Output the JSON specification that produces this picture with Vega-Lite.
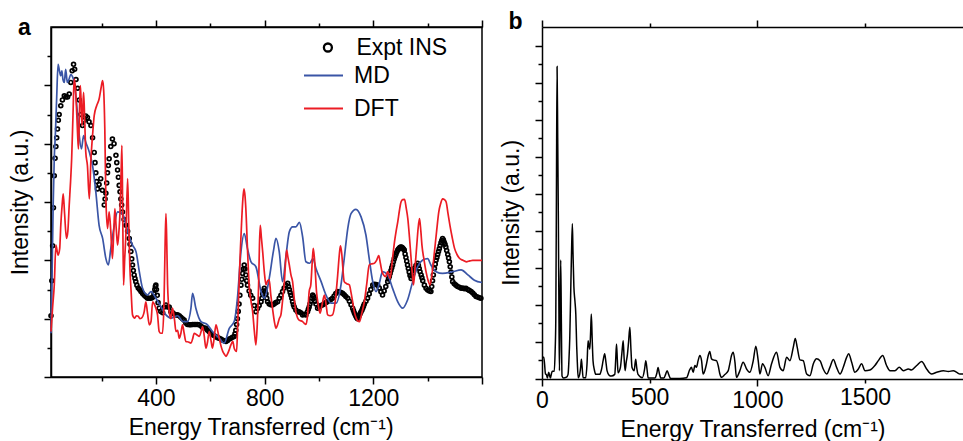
{
  "$schema": "https://vega.github.io/schema/vega-lite/v6.json",
  "padding": {"left": 9, "top": 10, "right": 0, "bottom": 0},
  "bounds": "flush",
  "spacing": 60,
  "config": {
    "font": "Liberation Sans",
    "view": {"stroke": "black", "strokeWidth": 1.5},
    "axis": {"domainColor": "black", "domainWidth": 1.5, "tickColor": "black", "tickWidth": 1.5, "tickSize": 7, "labelFont": "Liberation Sans", "labelFontSize": 23, "labelColor": "black", "labelPadding": 3.5, "titleFont": "Liberation Sans", "titleFontSize": 23, "titleFontWeight": "normal", "titleColor": "black", "grid": false},
    "legend": {"labelFont": "Liberation Sans", "labelFontSize": 23, "labelColor": "black", "padding": 0},
    "title": {"font": "Liberation Sans", "fontSize": 23, "fontWeight": "bold", "color": "black", "anchor": "start", "frame": "group", "offset": 0, "baseline": "alphabetic"}
  },
  "datasets": {
    "expt": [
      {"e":14,"i":2.1},{"e":17,"i":3.3},{"e":20,"i":4.5},{"e":23,"i":5.8},{"e":26,"i":6.9},{"e":29,"i":7.5},{"e":32,"i":7.9},{"e":35,"i":8.2},{"e":38,"i":8.5},{"e":41,"i":8.8},{"e":44,"i":9.0},{"e":50,"i":9.3},{"e":56,"i":9.5},{"e":63,"i":9.64},{"e":69,"i":9.6},{"e":75,"i":9.6},{"e":81,"i":9.7},{"e":87,"i":10.1},{"e":92,"i":10.5},{"e":97,"i":10.72},{"e":101,"i":10.55},{"e":106,"i":10.2},{"e":112,"i":9.9},{"e":118,"i":9.5},{"e":124,"i":9.0},{"e":130,"i":8.62},{"e":136,"i":8.8},{"e":142,"i":8.95},{"e":148,"i":8.9},{"e":154,"i":8.75},{"e":161,"i":8.62},{"e":167,"i":8.2},{"e":173,"i":7.7},{"e":176,"i":7.35},{"e":179,"i":7.0},{"e":182,"i":6.7},{"e":185,"i":6.45},{"e":191,"i":6.6},{"e":197,"i":6.8},{"e":203,"i":6.4},{"e":210,"i":5.9},{"e":213,"i":6.1},{"e":216,"i":6.3},{"e":219,"i":6.65},{"e":222,"i":7.0},{"e":225,"i":7.25},{"e":228,"i":7.48},{"e":234,"i":7.9},{"e":240,"i":8.16},{"e":246,"i":8.0},{"e":253,"i":7.6},{"e":256,"i":7.35},{"e":259,"i":7.1},{"e":262,"i":6.85},{"e":265,"i":6.57},{"e":268,"i":6.35},{"e":271,"i":6.1},{"e":274,"i":5.9},{"e":277,"i":5.66},{"e":283,"i":5.4},{"e":290,"i":5.2},{"e":296,"i":5.0},{"e":302,"i":4.75},{"e":305,"i":4.55},{"e":308,"i":4.3},{"e":311,"i":4.05},{"e":314,"i":3.84},{"e":317,"i":3.65},{"e":320,"i":3.5},{"e":323,"i":3.38},{"e":326,"i":3.27},{"e":330,"i":3.15},{"e":335,"i":3.05},{"e":340,"i":3.0},{"e":345,"i":2.93},{"e":351,"i":2.86},{"e":357,"i":2.8},{"e":363,"i":2.75},{"e":369,"i":2.7},{"e":375,"i":2.7},{"e":381,"i":2.7},{"e":386,"i":2.72},{"e":390,"i":2.75},{"e":393,"i":2.85},{"e":396,"i":3.0},{"e":398,"i":3.1},{"e":400,"i":3.15},{"e":402,"i":3.0},{"e":405,"i":2.8},{"e":408,"i":2.55},{"e":412,"i":2.36},{"e":418,"i":2.25},{"e":425,"i":2.2},{"e":431,"i":2.4},{"e":437,"i":2.47},{"e":443,"i":2.4},{"e":449,"i":2.4},{"e":455,"i":2.24},{"e":462,"i":2.2},{"e":468,"i":2.15},{"e":474,"i":2.13},{"e":480,"i":2.13},{"e":486,"i":2.1},{"e":492,"i":2.05},{"e":498,"i":2.0},{"e":504,"i":1.95},{"e":510,"i":1.85},{"e":516,"i":1.8},{"e":523,"i":1.79},{"e":529,"i":1.79},{"e":535,"i":1.8},{"e":541,"i":1.8},{"e":547,"i":1.8},{"e":553,"i":1.8},{"e":559,"i":1.79},{"e":566,"i":1.75},{"e":572,"i":1.7},{"e":578,"i":1.68},{"e":584,"i":1.67},{"e":590,"i":1.6},{"e":596,"i":1.55},{"e":602,"i":1.5},{"e":608,"i":1.45},{"e":614,"i":1.42},{"e":621,"i":1.38},{"e":627,"i":1.35},{"e":633,"i":1.33},{"e":639,"i":1.3},{"e":645,"i":1.27},{"e":651,"i":1.24},{"e":658,"i":1.22},{"e":664,"i":1.25},{"e":670,"i":1.3},{"e":676,"i":1.33},{"e":682,"i":1.36},{"e":688,"i":1.39},{"e":691,"i":1.48},{"e":694,"i":1.6},{"e":697,"i":1.8},{"e":700,"i":2.0},{"e":703,"i":2.25},{"e":706,"i":2.5},{"e":709,"i":2.8},{"e":713,"i":3.15},{"e":716,"i":3.35},{"e":719,"i":3.55},{"e":722,"i":3.7},{"e":725,"i":3.84},{"e":728,"i":3.7},{"e":731,"i":3.5},{"e":734,"i":3.3},{"e":737,"i":3.15},{"e":743,"i":2.95},{"e":749,"i":2.8},{"e":756,"i":2.7},{"e":762,"i":2.45},{"e":768,"i":2.24},{"e":774,"i":2.35},{"e":780,"i":2.45},{"e":787,"i":2.58},{"e":790,"i":2.7},{"e":793,"i":2.85},{"e":796,"i":2.95},{"e":799,"i":3.04},{"e":802,"i":2.95},{"e":805,"i":2.85},{"e":808,"i":2.7},{"e":811,"i":2.58},{"e":817,"i":2.5},{"e":823,"i":2.48},{"e":829,"i":2.47},{"e":835,"i":2.5},{"e":841,"i":2.55},{"e":848,"i":2.58},{"e":854,"i":2.7},{"e":860,"i":2.8},{"e":866,"i":2.93},{"e":872,"i":3.05},{"e":878,"i":3.15},{"e":885,"i":3.21},{"e":888,"i":3.1},{"e":891,"i":3.0},{"e":894,"i":2.9},{"e":897,"i":2.8},{"e":900,"i":2.7},{"e":903,"i":2.58},{"e":906,"i":2.48},{"e":909,"i":2.4},{"e":915,"i":2.3},{"e":921,"i":2.24},{"e":927,"i":2.24},{"e":933,"i":2.2},{"e":940,"i":2.13},{"e":946,"i":2.15},{"e":952,"i":2.13},{"e":958,"i":2.24},{"e":961,"i":2.32},{"e":964,"i":2.4},{"e":967,"i":2.5},{"e":970,"i":2.6},{"e":973,"i":2.7},{"e":977,"i":2.81},{"e":980,"i":2.76},{"e":983,"i":2.7},{"e":986,"i":2.6},{"e":989,"i":2.5},{"e":995,"i":2.36},{"e":1001,"i":2.4},{"e":1007,"i":2.45},{"e":1013,"i":2.47},{"e":1019,"i":2.5},{"e":1025,"i":2.55},{"e":1031,"i":2.58},{"e":1037,"i":2.62},{"e":1044,"i":2.66},{"e":1050,"i":2.7},{"e":1056,"i":2.78},{"e":1062,"i":2.86},{"e":1069,"i":2.93},{"e":1075,"i":2.92},{"e":1081,"i":2.9},{"e":1087,"i":2.87},{"e":1093,"i":2.82},{"e":1099,"i":2.76},{"e":1106,"i":2.7},{"e":1112,"i":2.6},{"e":1118,"i":2.48},{"e":1124,"i":2.36},{"e":1127,"i":2.28},{"e":1130,"i":2.2},{"e":1133,"i":2.14},{"e":1136,"i":2.08},{"e":1139,"i":2.03},{"e":1142,"i":2.0},{"e":1145,"i":2.05},{"e":1148,"i":2.1},{"e":1151,"i":2.16},{"e":1154,"i":2.22},{"e":1158,"i":2.29},{"e":1161,"i":2.36},{"e":1164,"i":2.43},{"e":1167,"i":2.5},{"e":1173,"i":2.6},{"e":1179,"i":2.7},{"e":1185,"i":2.85},{"e":1191,"i":3.0},{"e":1198,"i":3.15},{"e":1204,"i":3.18},{"e":1210,"i":3.17},{"e":1216,"i":3.15},{"e":1222,"i":3.05},{"e":1228,"i":2.92},{"e":1234,"i":2.81},{"e":1240,"i":2.95},{"e":1246,"i":3.1},{"e":1253,"i":3.27},{"e":1256,"i":3.36},{"e":1259,"i":3.45},{"e":1262,"i":3.55},{"e":1265,"i":3.65},{"e":1268,"i":3.75},{"e":1271,"i":3.84},{"e":1274,"i":3.95},{"e":1277,"i":4.05},{"e":1280,"i":4.13},{"e":1283,"i":4.2},{"e":1286,"i":4.28},{"e":1290,"i":4.35},{"e":1293,"i":4.39},{"e":1296,"i":4.42},{"e":1299,"i":4.45},{"e":1302,"i":4.46},{"e":1305,"i":4.45},{"e":1308,"i":4.42},{"e":1311,"i":4.39},{"e":1314,"i":4.35},{"e":1317,"i":4.22},{"e":1320,"i":4.1},{"e":1323,"i":3.97},{"e":1326,"i":3.84},{"e":1329,"i":3.72},{"e":1332,"i":3.6},{"e":1335,"i":3.48},{"e":1339,"i":3.38},{"e":1342,"i":3.46},{"e":1345,"i":3.55},{"e":1348,"i":3.64},{"e":1351,"i":3.72},{"e":1357,"i":3.82},{"e":1363,"i":3.9},{"e":1366,"i":3.82},{"e":1369,"i":3.72},{"e":1372,"i":3.61},{"e":1376,"i":3.5},{"e":1379,"i":3.4},{"e":1382,"i":3.3},{"e":1388,"i":3.15},{"e":1394,"i":3.04},{"e":1400,"i":2.98},{"e":1406,"i":2.95},{"e":1412,"i":2.93},{"e":1415,"i":3.1},{"e":1418,"i":3.3},{"e":1421,"i":3.5},{"e":1425,"i":3.72},{"e":1428,"i":3.87},{"e":1431,"i":4.0},{"e":1434,"i":4.1},{"e":1437,"i":4.2},{"e":1440,"i":4.3},{"e":1443,"i":4.4},{"e":1446,"i":4.5},{"e":1449,"i":4.6},{"e":1452,"i":4.68},{"e":1455,"i":4.75},{"e":1458,"i":4.7},{"e":1461,"i":4.62},{"e":1464,"i":4.55},{"e":1467,"i":4.46},{"e":1470,"i":4.34},{"e":1474,"i":4.2},{"e":1477,"i":4.08},{"e":1480,"i":3.95},{"e":1483,"i":3.78},{"e":1486,"i":3.6},{"e":1489,"i":3.43},{"e":1492,"i":3.27},{"e":1498,"i":3.2},{"e":1504,"i":3.15},{"e":1510,"i":3.1},{"e":1517,"i":3.08},{"e":1523,"i":3.04},{"e":1529,"i":3.05},{"e":1535,"i":3.03},{"e":1541,"i":3.04},{"e":1547,"i":3.0},{"e":1553,"i":2.97},{"e":1560,"i":2.93},{"e":1566,"i":2.88},{"e":1572,"i":2.82},{"e":1578,"i":2.76},{"e":1584,"i":2.74},{"e":1590,"i":2.72},{"e":1596,"i":2.7}
    ],
    "md": [
      {"e":14,"i":1.5},{"e":18,"i":3.5},{"e":22,"i":5.9},{"e":26,"i":7.5},{"e":30,"i":8.3},{"e":35,"i":9.6},{"e":40,"i":10.72},{"e":45,"i":10.5},{"e":50,"i":10.33},{"e":54,"i":10.5},{"e":58,"i":10.2},{"e":63,"i":10.1},{"e":68,"i":10.55},{"e":74,"i":10.1},{"e":80,"i":10.2},{"e":87,"i":10.38},{"e":93,"i":10.3},{"e":97,"i":10.2},{"e":102,"i":9.9},{"e":106,"i":9.6},{"e":112,"i":8.96},{"e":118,"i":8.28},{"e":126,"i":7.82},{"e":134,"i":8.28},{"e":142,"i":8.05},{"e":155,"i":7.71},{"e":167,"i":7.25},{"e":179,"i":6.34},{"e":191,"i":5.2},{"e":204,"i":4.75},{"e":216,"i":4.06},{"e":225,"i":3.84},{"e":234,"i":4.4},{"e":247,"i":5.2},{"e":259,"i":5.66},{"e":277,"i":5.6},{"e":296,"i":4.98},{"e":314,"i":4.52},{"e":327,"i":4.29},{"e":339,"i":3.61},{"e":351,"i":3.04},{"e":369,"i":2.81},{"e":382,"i":2.93},{"e":400,"i":2.7},{"e":419,"i":2.4},{"e":437,"i":2.13},{"e":455,"i":2.02},{"e":480,"i":2.1},{"e":500,"i":1.9},{"e":516,"i":1.9},{"e":529,"i":2.36},{"e":535,"i":2.87},{"e":547,"i":2.36},{"e":566,"i":1.9},{"e":590,"i":1.79},{"e":608,"i":1.56},{"e":633,"i":1.33},{"e":651,"i":1.16},{"e":670,"i":1.67},{"e":688,"i":1.9},{"e":700,"i":2.7},{"e":713,"i":4.29},{"e":725,"i":4.92},{"e":737,"i":4.4},{"e":750,"i":3.95},{"e":768,"i":3.78},{"e":787,"i":2.93},{"e":799,"i":2.7},{"e":817,"i":3.38},{"e":832,"i":4.29},{"e":842,"i":4.75},{"e":854,"i":4.29},{"e":866,"i":3.27},{"e":879,"i":4.18},{"e":891,"i":4.98},{"e":903,"i":5.15},{"e":915,"i":5.15},{"e":928,"i":5.3},{"e":940,"i":4.8},{"e":952,"i":3.95},{"e":966,"i":3.9},{"e":978,"i":4.06},{"e":989,"i":3.72},{"e":1008,"i":3.27},{"e":1026,"i":2.81},{"e":1044,"i":2.53},{"e":1063,"i":2.53},{"e":1081,"i":3.15},{"e":1093,"i":4.06},{"e":1106,"i":5.09},{"e":1118,"i":5.6},{"e":1136,"i":5.75},{"e":1155,"i":5.49},{"e":1173,"i":4.86},{"e":1185,"i":4.06},{"e":1198,"i":3.27},{"e":1210,"i":2.93},{"e":1222,"i":3.21},{"e":1234,"i":3.61},{"e":1253,"i":3.5},{"e":1271,"i":3.04},{"e":1290,"i":2.58},{"e":1308,"i":2.36},{"e":1326,"i":2.64},{"e":1345,"i":3.27},{"e":1363,"i":3.78},{"e":1382,"i":4.01},{"e":1400,"i":4.06},{"e":1412,"i":3.84},{"e":1431,"i":3.61},{"e":1455,"i":3.55},{"e":1492,"i":3.61},{"e":1523,"i":3.67},{"e":1548,"i":3.5},{"e":1572,"i":3.32},{"e":1600,"i":3.24}
    ],
    "dft": [
      {"e":14,"i":1.56},{"e":20,"i":2.4},{"e":26,"i":3.15},{"e":32,"i":4.52},{"e":40,"i":4.18},{"e":46,"i":4.4},{"e":50,"i":5.2},{"e":55,"i":5.9},{"e":59,"i":6.28},{"e":64,"i":5.6},{"e":71,"i":4.75},{"e":76,"i":5.0},{"e":81,"i":5.89},{"e":86,"i":6.7},{"e":90,"i":7.48},{"e":95,"i":9.0},{"e":99,"i":10.21},{"e":104,"i":9.9},{"e":108,"i":9.19},{"e":112,"i":8.3},{"e":115,"i":7.82},{"e":119,"i":9.2},{"e":122,"i":9.99},{"e":125,"i":9.4},{"e":128,"i":8.62},{"e":131,"i":9.2},{"e":134,"i":9.76},{"e":138,"i":8.8},{"e":142,"i":7.71},{"e":148,"i":7.25},{"e":155,"i":6.11},{"e":161,"i":7.48},{"e":167,"i":8.3},{"e":173,"i":8.96},{"e":182,"i":9.3},{"e":191,"i":9.53},{"e":198,"i":9.9},{"e":204,"i":10.16},{"e":208,"i":9.8},{"e":212,"i":8.5},{"e":216,"i":6.11},{"e":222,"i":5.09},{"e":228,"i":5.66},{"e":234,"i":5.0},{"e":240,"i":4.06},{"e":245,"i":5.0},{"e":249,"i":5.77},{"e":254,"i":5.1},{"e":259,"i":4.52},{"e":264,"i":5.0},{"e":268,"i":5.66},{"e":272,"i":7.0},{"e":275,"i":7.94},{"e":278,"i":5.5},{"e":281,"i":3.15},{"e":285,"i":4.0},{"e":290,"i":4.98},{"e":296,"i":6.8},{"e":300,"i":5.3},{"e":304,"i":3.84},{"e":309,"i":2.9},{"e":314,"i":2.13},{"e":322,"i":2.02},{"e":328,"i":2.1},{"e":335,"i":2.08},{"e":341,"i":2.0},{"e":347,"i":2.02},{"e":357,"i":2.24},{"e":363,"i":2.58},{"e":369,"i":2.2},{"e":376,"i":1.79},{"e":382,"i":1.9},{"e":388,"i":2.58},{"e":394,"i":2.5},{"e":400,"i":2.36},{"e":406,"i":2.13},{"e":412,"i":1.56},{"e":418,"i":1.5},{"e":424,"i":1.5},{"e":430,"i":2.6},{"e":434,"i":4.6},{"e":437,"i":5.6},{"e":440,"i":4.6},{"e":443,"i":3.16},{"e":449,"i":2.24},{"e":455,"i":2.0},{"e":461,"i":2.36},{"e":468,"i":2.0},{"e":474,"i":1.56},{"e":480,"i":1.6},{"e":486,"i":1.33},{"e":492,"i":1.5},{"e":498,"i":1.79},{"e":504,"i":1.5},{"e":510,"i":1.22},{"e":520,"i":1.2},{"e":529,"i":1.16},{"e":535,"i":1.3},{"e":541,"i":1.5},{"e":550,"i":1.45},{"e":560,"i":1.39},{"e":566,"i":1.55},{"e":572,"i":1.73},{"e":578,"i":1.4},{"e":584,"i":0.99},{"e":590,"i":1.2},{"e":596,"i":1.56},{"e":602,"i":1.3},{"e":608,"i":0.99},{"e":614,"i":1.3},{"e":621,"i":1.79},{"e":627,"i":1.6},{"e":633,"i":1.33},{"e":640,"i":1.05},{"e":646,"i":0.88},{"e":652,"i":0.78},{"e":658,"i":0.71},{"e":664,"i":0.8},{"e":670,"i":0.94},{"e":676,"i":1.1},{"e":683,"i":1.22},{"e":688,"i":0.99},{"e":693,"i":0.9},{"e":697,"i":0.88},{"e":701,"i":1.8},{"e":706,"i":3.16},{"e":711,"i":4.4},{"e":716,"i":5.43},{"e":720,"i":6.1},{"e":724,"i":6.45},{"e":728,"i":6.2},{"e":731,"i":5.77},{"e":737,"i":4.4},{"e":743,"i":3.16},{"e":750,"i":2.6},{"e":756,"i":2.24},{"e":762,"i":1.6},{"e":768,"i":1.1},{"e":773,"i":1.8},{"e":778,"i":3.16},{"e":781,"i":4.5},{"e":784,"i":5.2},{"e":788,"i":4.8},{"e":793,"i":4.29},{"e":799,"i":3.6},{"e":805,"i":3.16},{"e":811,"i":3.3},{"e":817,"i":3.33},{"e":823,"i":2.8},{"e":829,"i":2.36},{"e":836,"i":1.9},{"e":842,"i":1.67},{"e":848,"i":1.8},{"e":854,"i":2.0},{"e":860,"i":2.13},{"e":866,"i":2.6},{"e":872,"i":3.16},{"e":877,"i":3.9},{"e":881,"i":4.35},{"e":886,"i":4.1},{"e":891,"i":3.84},{"e":897,"i":3.5},{"e":903,"i":3.27},{"e":909,"i":2.7},{"e":915,"i":2.24},{"e":927,"i":1.95},{"e":940,"i":1.9},{"e":946,"i":1.84},{"e":952,"i":1.8},{"e":958,"i":2.1},{"e":964,"i":2.93},{"e":970,"i":3.16},{"e":975,"i":3.9},{"e":979,"i":4.41},{"e":984,"i":4.0},{"e":991,"i":2.93},{"e":997,"i":2.5},{"e":1004,"i":2.19},{"e":1012,"i":2.5},{"e":1020,"i":2.81},{"e":1026,"i":2.5},{"e":1032,"i":2.13},{"e":1041,"i":2.1},{"e":1050,"i":2.13},{"e":1060,"i":2.6},{"e":1069,"i":3.5},{"e":1075,"i":4.2},{"e":1079,"i":4.5},{"e":1083,"i":4.3},{"e":1093,"i":3.27},{"e":1102,"i":3.2},{"e":1112,"i":3.16},{"e":1118,"i":2.9},{"e":1124,"i":2.58},{"e":1130,"i":2.25},{"e":1137,"i":2.02},{"e":1143,"i":1.92},{"e":1149,"i":1.9},{"e":1158,"i":2.2},{"e":1167,"i":2.58},{"e":1176,"i":3.2},{"e":1185,"i":3.84},{"e":1194,"i":3.88},{"e":1204,"i":3.9},{"e":1212,"i":4.0},{"e":1220,"i":4.16},{"e":1226,"i":3.9},{"e":1232,"i":3.61},{"e":1238,"i":3.5},{"e":1245,"i":3.44},{"e":1253,"i":3.61},{"e":1262,"i":3.38},{"e":1270,"i":4.0},{"e":1278,"i":4.63},{"e":1284,"i":5.0},{"e":1290,"i":5.32},{"e":1296,"i":5.7},{"e":1302,"i":6.0},{"e":1308,"i":6.08},{"e":1315,"i":6.09},{"e":1321,"i":5.8},{"e":1327,"i":5.43},{"e":1333,"i":4.8},{"e":1339,"i":4.07},{"e":1344,"i":3.5},{"e":1348,"i":3.16},{"e":1354,"i":3.8},{"e":1360,"i":4.52},{"e":1365,"i":5.1},{"e":1370,"i":5.43},{"e":1375,"i":5.0},{"e":1379,"i":4.52},{"e":1387,"i":4.0},{"e":1394,"i":3.61},{"e":1402,"i":3.3},{"e":1409,"i":3.16},{"e":1417,"i":3.6},{"e":1425,"i":4.29},{"e":1433,"i":5.0},{"e":1441,"i":5.66},{"e":1448,"i":5.95},{"e":1455,"i":6.11},{"e":1462,"i":6.08},{"e":1468,"i":6.0},{"e":1475,"i":5.6},{"e":1482,"i":5.2},{"e":1490,"i":4.8},{"e":1499,"i":4.41},{"e":1508,"i":4.2},{"e":1517,"i":4.07},{"e":1530,"i":4.0},{"e":1542,"i":3.95},{"e":1555,"i":3.98},{"e":1566,"i":4.0},{"e":1583,"i":4.0},{"e":1600,"i":4.0}
    ],
    "calcb": [
      {"e":0,"i":1.18},{"e":8,"i":1.18},{"e":12,"i":0.8},{"e":16,"i":0.27},{"e":20,"i":0.25},{"e":25,"i":0.05},{"e":31,"i":0.36},{"e":36,"i":0.15},{"e":39,"i":0.05},{"e":44,"i":0.3},{"e":48,"i":0.42},{"e":57,"i":0.42},{"e":61,"i":1.5},{"e":64,"i":3.18},{"e":67,"i":10},{"e":70,"i":16.87},{"e":73,"i":13},{"e":76,"i":8.6},{"e":79,"i":3},{"e":81,"i":0.45},{"e":84,"i":3.5},{"e":87,"i":6.42},{"e":90,"i":3},{"e":93,"i":0.16},{"e":100,"i":0.05},{"e":106,"i":0.07},{"e":114,"i":0.1},{"e":121,"i":0.25},{"e":125,"i":1.0},{"e":129,"i":2.24},{"e":133,"i":4.5},{"e":137,"i":6.78},{"e":141,"i":8.38},{"e":144,"i":6.8},{"e":148,"i":5.0},{"e":153,"i":4.2},{"e":157,"i":3.5},{"e":161,"i":1.8},{"e":164,"i":0.9},{"e":168,"i":0.07},{"e":175,"i":0.25},{"e":180,"i":0.7},{"e":183,"i":1.07},{"e":186,"i":0.7},{"e":191,"i":0.07},{"e":203,"i":0.07},{"e":209,"i":0.8},{"e":214,"i":2.06},{"e":218,"i":1.8},{"e":222,"i":1.6},{"e":226,"i":2.6},{"e":229,"i":3.51},{"e":233,"i":2.2},{"e":237,"i":0.98},{"e":243,"i":0.5},{"e":250,"i":0.25},{"e":268,"i":0.25},{"e":276,"i":0.5},{"e":284,"i":1.0},{"e":291,"i":1.36},{"e":297,"i":0.9},{"e":302,"i":0.45},{"e":312,"i":0.2},{"e":322,"i":0.16},{"e":338,"i":0.25},{"e":342,"i":1.0},{"e":346,"i":1.89},{"e":350,"i":1.0},{"e":353,"i":0.34},{"e":364,"i":0.62},{"e":371,"i":1.4},{"e":377,"i":2.06},{"e":381,"i":1.2},{"e":386,"i":0.45},{"e":391,"i":0.9},{"e":397,"i":1.36},{"e":402,"i":2.0},{"e":408,"i":2.8},{"e":413,"i":1.6},{"e":418,"i":0.62},{"e":428,"i":0.45},{"e":435,"i":1.07},{"e":440,"i":0.6},{"e":446,"i":0.25},{"e":466,"i":0.07},{"e":476,"i":0.5},{"e":482,"i":0.98},{"e":488,"i":0.5},{"e":493,"i":0.05},{"e":524,"i":0.05},{"e":533,"i":0.3},{"e":539,"i":0.62},{"e":545,"i":0.3},{"e":552,"i":0.05},{"e":566,"i":0.05},{"e":574,"i":0.25},{"e":581,"i":0.45},{"e":588,"i":0.25},{"e":597,"i":0.03},{"e":640,"i":0.03},{"e":671,"i":0.07},{"e":686,"i":0.5},{"e":694,"i":0.63},{"e":702,"i":0.36},{"e":710,"i":0.73},{"e":717,"i":0.63},{"e":725,"i":0.99},{"e":733,"i":1.27},{"e":741,"i":0.99},{"e":748,"i":0.27},{"e":756,"i":0.45},{"e":764,"i":0.82},{"e":772,"i":1.27},{"e":779,"i":1.49},{"e":787,"i":1.09},{"e":795,"i":1.03},{"e":810,"i":0.99},{"e":818,"i":0.73},{"e":826,"i":0.27},{"e":834,"i":0.09},{"e":849,"i":0.24},{"e":865,"i":0.45},{"e":872,"i":0.82},{"e":880,"i":1.27},{"e":888,"i":1.45},{"e":896,"i":0.91},{"e":903,"i":0.09},{"e":919,"i":0.45},{"e":934,"i":0.91},{"e":950,"i":0.54},{"e":965,"i":0.36},{"e":981,"i":0.99},{"e":993,"i":1.77},{"e":1004,"i":0.99},{"e":1012,"i":0.27},{"e":1024,"i":0.82},{"e":1035,"i":0.63},{"e":1050,"i":0.18},{"e":1066,"i":0.82},{"e":1089,"i":1.45},{"e":1105,"i":0.63},{"e":1120,"i":0.45},{"e":1136,"i":1.18},{"e":1151,"i":0.99},{"e":1167,"i":1.72},{"e":1176,"i":2.18},{"e":1185,"i":1.72},{"e":1198,"i":1.03},{"e":1213,"i":0.99},{"e":1229,"i":0.27},{"e":1244,"i":0.18},{"e":1260,"i":0.82},{"e":1275,"i":1.09},{"e":1291,"i":0.99},{"e":1306,"i":0.54},{"e":1322,"i":0.27},{"e":1337,"i":0.63},{"e":1353,"i":1.05},{"e":1368,"i":0.63},{"e":1384,"i":0.27},{"e":1399,"i":0.63},{"e":1415,"i":1.18},{"e":1424,"i":1.36},{"e":1438,"i":0.91},{"e":1453,"i":0.36},{"e":1469,"i":0.54},{"e":1484,"i":0.82},{"e":1500,"i":0.45},{"e":1523,"i":0.49},{"e":1546,"i":0.73},{"e":1562,"i":0.99},{"e":1582,"i":1.27},{"e":1600,"i":0.73},{"e":1616,"i":0.45},{"e":1639,"i":0.45},{"e":1659,"i":0.63},{"e":1678,"i":0.45},{"e":1701,"i":0.54},{"e":1716,"i":0.49},{"e":1740,"i":0.73},{"e":1763,"i":0.94},{"e":1786,"i":0.54},{"e":1809,"i":0.27},{"e":1833,"i":0.36},{"e":1864,"i":0.45},{"e":1887,"i":0.4},{"e":1910,"i":0.45},{"e":1926,"i":0.36},{"e":1941,"i":0.27},{"e":1955,"i":0.27}
    ]
  },
  "hconcat": [
    {
      "width": 431,
      "height": 350,
      "title": {"text": "a", "dx": -33, "dy": 24.9},
      "layer": [
        {
          "data": {"name": "expt"},
          "mark": {"type": "point", "filled": false, "size": 15, "strokeWidth": 1.7, "opacity": 1},
          "encoding": {
            "x": {"field": "e", "type": "quantitative", "scale": {"domain": [14, 1600], "nice": false, "zero": false},
              "axis": {"orient": "bottom", "values": [200, 400, 600, 800, 1000, 1200, 1400, 1600], "format": "d", "labelExpr": "datum.value % 400 === 0 && datum.value < 1600 ? datum.label : ''", "labelFlush": false, "labelOverlap": false, "title": "Energy Transferred (cm⁻¹)", "titlePadding": 6, "titleX": 209.6,
                "tickSize": {"condition": {"test": "datum.value % 400 === 0", "value": 7}, "value": 4}}},
            "y": {"field": "i", "type": "quantitative", "scale": {"domain": [0, 12], "nice": false, "zero": false},
              "axis": {"orient": "left", "values": [0, 1, 2, 3, 4, 5, 6, 7, 8, 9, 10, 11], "labels": false, "title": "Intensity (a.u.)", "titlePadding": 10.5,
                "tickSize": {"condition": {"test": "datum.value % 2 === 0", "value": 7}, "value": 4}}},
            "color": {"datum": "Expt INS", "type": "nominal",
              "scale": {"domain": ["Expt INS"], "range": ["#000000"]},
              "legend": {"title": null, "orient": "none", "legendX": 265.4, "legendY": 9, "symbolType": "circle", "symbolSize": 64, "symbolStrokeWidth": 2.3, "labelOffset": 17}}
          }
        },
        {
          "data": {"name": "md"},
          "mark": {"type": "line", "interpolate": "monotone", "strokeWidth": 1.7},
          "encoding": {
            "x": {"field": "e", "type": "quantitative", "scale": {"domain": [14, 1600], "nice": false, "zero": false},
              "axis": {"orient": "top", "values": [200, 400, 600, 800, 1000, 1200, 1400, 1600], "labels": false, "title": null,
                "tickSize": {"condition": {"test": "datum.value % 400 === 0", "value": 7}, "value": 4}}},
            "y": {"field": "i", "type": "quantitative", "scale": {"domain": [0, 12], "nice": false, "zero": false},
              "axis": {"orient": "left", "values": [0, 1, 2, 3, 4, 5, 6, 7, 8, 9, 10, 11], "labels": false, "title": "Intensity (a.u.)", "titlePadding": 10.5,
                "tickSize": {"condition": {"test": "datum.value % 2 === 0", "value": 7}, "value": 4}}},
            "stroke": {"datum": "MD", "type": "nominal",
              "scale": {"domain": ["MD", "DFT"], "range": ["#3a55a6", "#ec1c24"]},
              "legend": {"title": null, "orient": "none", "legendX": 252, "legendY": 28, "symbolType": "stroke", "symbolSize": 1521, "symbolStrokeWidth": 2, "labelOffset": 10, "rowPadding": -13.5}}
          }
        },
        {
          "data": {"name": "dft"},
          "mark": {"type": "line", "interpolate": "monotone", "strokeWidth": 1.7},
          "encoding": {
            "x": {"field": "e", "type": "quantitative", "scale": {"domain": [14, 1600], "nice": false, "zero": false}, "axis": null},
            "y": {"field": "i", "type": "quantitative", "scale": {"domain": [0, 12], "nice": false, "zero": false},
              "axis": {"orient": "left", "values": [0, 1, 2, 3, 4, 5, 6, 7, 8, 9, 10, 11], "labels": false, "title": "Intensity (a.u.)", "titlePadding": 10.5,
                "tickSize": {"condition": {"test": "datum.value % 2 === 0", "value": 7}, "value": 4}}},
            "stroke": {"datum": "DFT", "type": "nominal",
              "scale": {"domain": ["MD", "DFT"], "range": ["#3a55a6", "#ec1c24"]},
              "legend": {"title": null, "orient": "none", "legendX": 252, "legendY": 28, "symbolType": "stroke", "symbolSize": 1521, "symbolStrokeWidth": 2, "labelOffset": 10, "rowPadding": -13.5}}
          }
        }
      ],
      "resolve": {"axis": {"x": "independent"}}
    },
    {
      "width": 421,
      "height": 352,
      "title": {"text": "b", "dx": -33.5, "dy": 18.4},
      "view": {"stroke": null},
      "layer": [
        {
          "data": {"name": "calcb"},
          "mark": {"type": "line", "interpolate": "monotone", "strokeWidth": 1.5, "color": "black"},
          "encoding": {
            "x": {"field": "e", "type": "quantitative", "scale": {"domain": [0, 1955], "nice": false, "zero": false},
              "axis": {"orient": "bottom", "values": [0, 500, 1000, 1500], "format": "d", "labelFlush": false, "labelOverlap": false, "title": "Energy Transferred (cm⁻¹)", "titlePadding": 6,
                "tickSize": {"condition": {"test": "datum.value % 1000 === 0", "value": 7}, "value": 4}}},
            "y": {"field": "i", "type": "quantitative", "scale": {"domain": [0, 19], "nice": false, "zero": false},
              "axis": {"orient": "left", "values": [0, 1, 2, 3, 4, 5, 6, 7, 8, 9, 10, 11, 12, 13, 14, 15, 16, 17, 18], "labels": false, "title": "Intensity (a.u.)", "titlePadding": 10.5, "titleY": 185.3,
                "tickSize": {"condition": {"test": "datum.value % 2 === 0", "value": 7}, "value": 4}}}
          }
        },
        {
          "data": {"name": "calcb"},
          "mark": {"type": "line", "interpolate": "monotone", "strokeWidth": 1.5, "color": "black", "opacity": 0},
          "encoding": {
            "x": {"field": "e", "type": "quantitative", "scale": {"domain": [0, 1955], "nice": false, "zero": false},
              "axis": {"orient": "top", "values": [0, 500, 1000, 1500], "labels": false, "title": null,
                "tickSize": {"condition": {"test": "datum.value % 1000 === 0", "value": 7}, "value": 4}}},
            "y": {"field": "i", "type": "quantitative", "scale": {"domain": [0, 19], "nice": false, "zero": false},
              "axis": {"orient": "left", "values": [0, 1, 2, 3, 4, 5, 6, 7, 8, 9, 10, 11, 12, 13, 14, 15, 16, 17, 18], "labels": false, "title": "Intensity (a.u.)", "titlePadding": 10.5, "titleY": 185.3,
                "tickSize": {"condition": {"test": "datum.value % 2 === 0", "value": 7}, "value": 4}}}
          }
        }
      ],
      "resolve": {"axis": {"x": "independent"}}
    }
  ]
}
